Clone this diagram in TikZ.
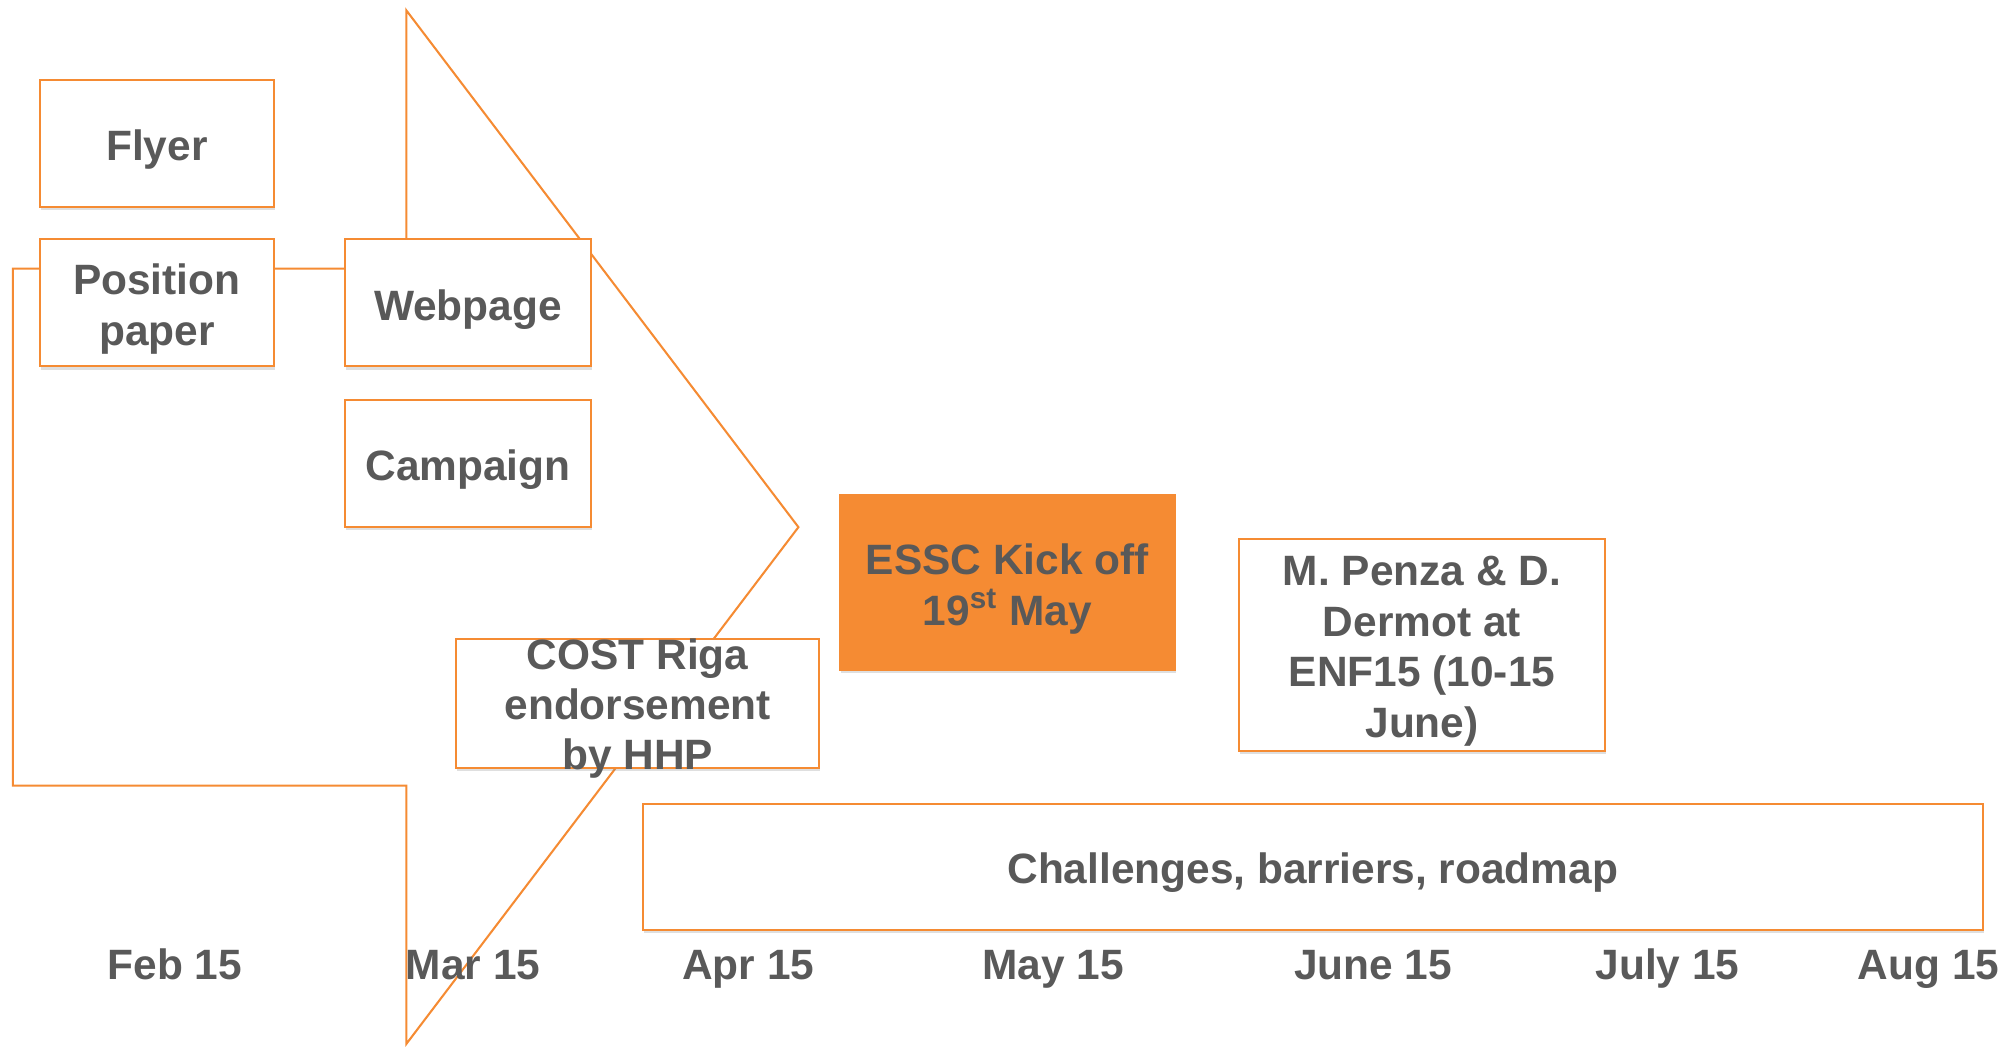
\documentclass[tikz,border=0pt]{standalone}
\usepackage{fontspec}
\setmainfont{Liberation Sans}
\usetikzlibrary{shadows}
\definecolor{org}{HTML}{F58B33}
\definecolor{txtgray}{HTML}{595959}
\begin{document}
\begin{tikzpicture}[x=0.5pt,y=-0.5pt,
  lab/.style={font=\fontsize{16.5}{19.6}\selectfont\bfseries, text=txtgray, align=center, inner sep=0pt},
  boxtxt/.style={lab, yshift=-2.5pt},
  month/.style={lab, anchor=base},
  box/.style={draw=org, line width=0.8pt, fill=white, inner sep=0pt,
    drop shadow={shadow xshift=0.4pt, shadow yshift=-1.2pt, opacity=0.25}},
  chev/.style={draw=org, line width=0.8pt},
]
\useasboundingbox (0,0) rectangle (1568,814);

% chevron arrow
\draw[chev] (10,209) -- (316,209) -- (316,8) -- (621,410) -- (316,812) -- (316,611) -- (10,611) -- cycle;

% boxes
\node[box, minimum width=91pt, minimum height=49.5pt] (flyer) at (122,111.5) {};
\node[boxtxt] (flyertxt) at (flyer) {Flyer};
\node[box, minimum width=91pt, minimum height=49.5pt] (pos) at (122,235.5) {};
\node[boxtxt] (postxt) at (pos) {Position\\paper};
\node[box, minimum width=96pt, minimum height=49.5pt] (web) at (364,235.5) {};
\node[boxtxt] (webtxt) at (web) {Webpage};
\node[box, minimum width=96pt, minimum height=49.5pt] (camp) at (364,360.5) {};
\node[boxtxt] (camptxt) at (camp) {Campaign};
\node[box, fill=org, minimum width=130.5pt, minimum height=68pt] (essc) at (783.5,453) {};
\node[boxtxt] (essctxt) at (essc) {ESSC Kick off\\19\textsuperscript{st} May};
\node[box, minimum width=141pt, minimum height=50pt] (cost) at (496,547) {};
\node[lab] (costtxt) at (496,551) {COST Riga\\endorsement\\by HHP};
\node[box, minimum width=142pt, minimum height=82.5pt] (penza) at (1106,501.5) {};
\node[boxtxt] (penzatxt) at (penza) {M. Penza \& D.\\Dermot at\\ENF15 (10-15\\June)};
\node[box, minimum width=521pt, minimum height=49pt] (chal) at (1021,674) {};
\node[boxtxt] (chaltxt) at (chal) {Challenges, barriers, roadmap};

% month labels
\node[month] (feb) at (136,762) {Feb 15};
\node[month] (mar) at (368,762) {Mar 15};
\node[month] (apr) at (582,762) {Apr 15};
\node[month] (may) at (819,762) {May 15};
\node[month] (jun) at (1068,762) {June 15};
\node[month] (jul) at (1297,762) {July 15};
\node[month] (aug) at (1500,762) {Aug 15};
\end{tikzpicture}
\end{document}
